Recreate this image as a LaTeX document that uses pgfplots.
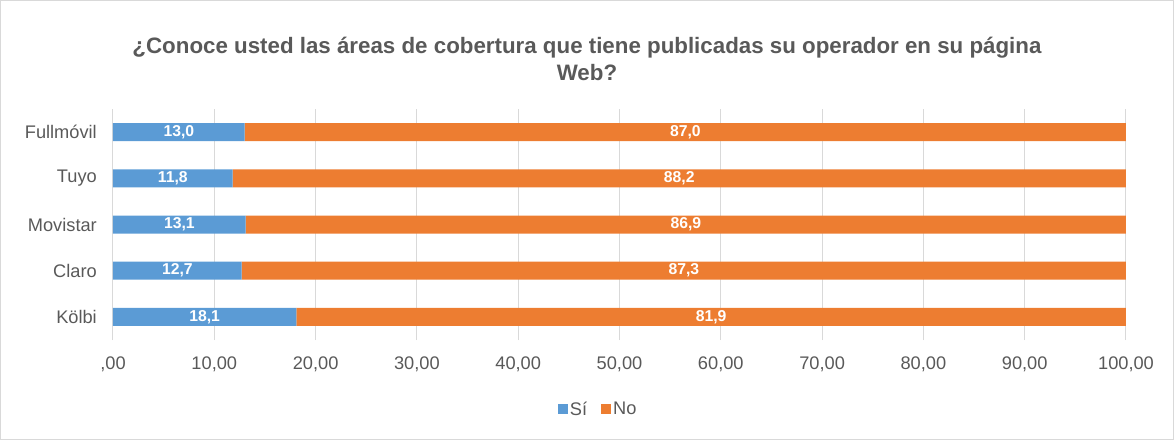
\documentclass[border=0pt]{standalone}
\usepackage{pgfplots}
\pgfplotsset{compat=1.18}
\usepackage{fontspec}
\setmainfont{Liberation Sans}
\definecolor{si}{HTML}{5B9BD5}
\definecolor{no}{HTML}{ED7D31}
\definecolor{txt}{HTML}{595959}
\definecolor{grd}{HTML}{D9D9D9}

\begin{document}
\begin{tikzpicture}
  % whole chart area with its light frame
  \path[use as bounding box] (-113bp,-100bp) rectangle (1061bp,340bp);
  \draw[grd, line width=1bp] (-112.5bp,-99.5bp) rectangle (1060.5bp,339.5bp);

  \begin{axis}[
      at={(0bp,0bp)}, anchor=south west,
      scale only axis, width=1013bp, height=231bp,
      xbar stacked, bar width=18bp,
      xmin=0, xmax=100, ymin=-0.5, ymax=4.5,
      ytick={0,1,2,3,4},
      yticklabels={Kölbi,Claro,Movistar,{Tuyo\ },Fullmóvil},
      xtick={0,10,...,100},
      xticklabels={{,00},{10,00},{20,00},{30,00},{40,00},{50,00},{60,00},{70,00},{80,00},{90,00},{100,00}},
      axis line style={draw=none},
      major tick length=0pt,
      xmajorgrids,
      major grid style={grd, line width=1bp},
      tick label style={font=\fontsize{18.3}{22}\selectfont, text=txt},
      yticklabel style={anchor=east, inner sep=0pt, xshift=-16bp},
      xticklabel style={anchor=north, inner sep=0pt, yshift=-16.5bp},
      visualization depends on=rawx \as \rawx,
      nodes near coords={\pgfmathprintnumber[fixed,fixed zerofill,precision=1,use comma,assume math mode=true]{\rawx}},
      every node near coord/.append style={
          anchor=center, text=white, inner sep=0pt,
          font=\bfseries\fontsize{15.8}{18}\selectfont},
      legend columns=2,
      legend style={at={(0.479,-0.299)}, anchor=center, draw=none,
          font=\fontsize{18.3}{22}\selectfont, text=txt,
          inner sep=0pt,
          /tikz/every even column/.append style={column sep=12bp}},
      legend image code/.code={\fill[#1, draw=none] (0bp,-5bp) rectangle (10bp,5bp);},
  ]
  \addplot[fill=si, draw=none] coordinates {
      (18.1,0) (12.7,1) (13.1,2) (11.8,3) (13.0,4)
  };
  \addlegendentry{Sí}
  \addplot[fill=no, draw=none] coordinates {
      (81.9,0) (87.3,1) (86.9,2) (88.2,3) (87.0,4)
  };
  \addlegendentry{No}
  \end{axis}

  \node[align=center, text=txt, font=\bfseries\fontsize{22.4}{27}\selectfont]
      at (474bp,281.5bp) {¿Conoce usted las áreas de cobertura que tiene publicadas su operador en su página\\Web?};
\end{tikzpicture}
\end{document}
